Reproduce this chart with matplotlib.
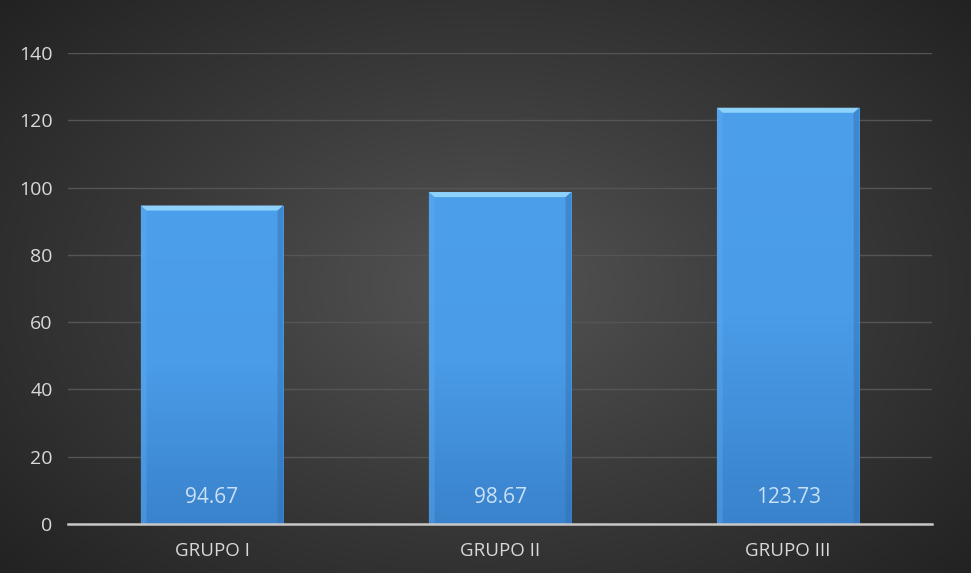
import numpy as np
import matplotlib.pyplot as plt
from matplotlib.colors import LinearSegmentedColormap

categories = ["GRUPO I", "GRUPO II", "GRUPO III"]
values = [94.67, 98.67, 123.73]
label_texts = ["94.67", "98.67", "123.73"]
yticks = [0, 20, 40, 60, 80, 100, 120, 140]

plt.rcParams['font.family'] = ['Open Sans', 'DejaVu Sans']

fig = plt.figure(figsize=(9.71, 5.73), dpi=100)

# radial background, lighter in the middle
bg = fig.add_axes([0, 0, 1, 1], zorder=-10)
yy, xx = np.mgrid[-1:1:300j, -1:1:500j]
r = np.sqrt(xx**2 + (yy * 0.9)**2)
bg_cmap = LinearSegmentedColormap.from_list("bg", ["#545454", "#3a3a3a", "#222222"])
bg.imshow(r, cmap=bg_cmap, aspect='auto', extent=[0, 1, 0, 1], vmin=0, vmax=1.35)
bg.axis('off')

ax = fig.add_axes([0.070, 0.0855, 0.890, 0.822])
ax.patch.set_alpha(0)

x = np.arange(len(categories))
bar_w = 0.495
bars = ax.bar(x, values, width=bar_w, color="#4a9be6", edgecolor="#2b5f94",
              linewidth=0.8, zorder=3)

# vertical gradient inside each bar
grad = np.linspace(0, 1, 256).reshape(-1, 1)
bar_cmap = LinearSegmentedColormap.from_list("bar", ["#3a82cc", "#4a9ce8", "#4c9fea"])
for b, v in zip(bars, values):
    x0 = b.get_x()
    im = ax.imshow(grad, cmap=bar_cmap, aspect='auto', origin='lower',
                   extent=[x0, x0 + bar_w, 0, v], zorder=3.5)
    im.set_clip_path(b)
    # bevel on the top edge
    bev = 1.5
    dx = 0.02
    ax.fill([x0, x0 + bar_w, x0 + bar_w - dx, x0 + dx],
            [v, v, v - bev, v - bev], color="#8ed2fb", zorder=4, lw=0)
    ax.fill([x0, x0 + dx, x0 + dx, x0],
            [v, v - bev, 0, 0], color="#62b0f2", zorder=4, lw=0, alpha=0.35)
    ax.fill([x0 + bar_w, x0 + bar_w - dx, x0 + bar_w - dx, x0 + bar_w],
            [v, v - bev, 0, 0], color="#2f6fae", zorder=4, lw=0, alpha=0.45)

for xi, t in zip(x, label_texts):
    ax.text(xi, 8, t, ha='center', va='center', fontsize=15,
            color="#c9e0f6", zorder=5)

ax.set_xlim(-0.5, 2.5)
ax.set_ylim(0, 140)
ax.set_yticks(yticks)
ax.set_xticks(x)
ax.set_xticklabels(categories)
ax.tick_params(axis='both', length=0, colors="#d9d9d9")
ax.tick_params(axis='x', pad=13, labelsize=13.5)
ax.tick_params(axis='y', pad=11, labelsize=14)
ax.yaxis.grid(True, color="#555555", linewidth=1.0, zorder=0)
ax.set_axisbelow(True)
for side in ['top', 'right', 'left']:
    ax.spines[side].set_visible(False)
ax.spines['bottom'].set_color("#c8c8c8")
ax.spines['bottom'].set_linewidth(1.8)
ax.spines['bottom'].set_zorder(6)

plt.savefig("out.png", dpi=100)
